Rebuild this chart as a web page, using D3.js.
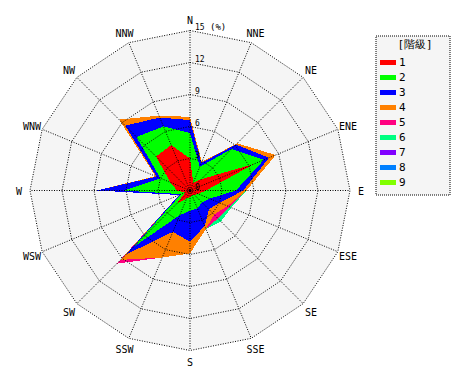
<!DOCTYPE html>
<html>
<head>
<meta charset="utf-8">
<script src="https://cdn.jsdelivr.net/npm/d3@7"></script>
<style>
  body { margin: 0; background: #fff; }
  svg { display: block; }
  text { font-family: "DejaVu Sans Mono", monospace; fill: #000; }
</style>
</head>
<body>
<svg id="rose" width="470" height="380"></svg>
<script>
// 16 directions, clockwise from north
const directions = ["N", "NNE", "NE", "ENE", "E", "ESE", "SE", "SSE",
                    "S", "SSW", "SW", "WSW", "W", "WNW", "NW", "NNW"];

// frequency (%) of each class per direction
const class1 = [3.0, 0.8, 1.5, 6.5, 1.5, 0.8, 0.6, 0.5, 0.6, 0.8, 1.7, 0.5, 1.2, 2.0, 4.5, 4.6];
const class2 = [2.4, 1.6, 4.0, 1.0, 2.8, 1.2, 1.0, 1.3, 1.3, 1.7, 5.8, 0.4, 5.0, 1.0, 2.6, 1.9];
const class3 = [1.2, 0.4, 0.6, 0.5, 0.7, 1.0, 0.9, 1.8, 2.9, 1.7, 1.0, 0.2, 2.55, 0.4, 1.5, 0.9];
const class4 = [0.3, 0.1, 0.15, 0.7, 0.3, 0.8, 0.7, 0.3, 1.1, 2.6, 0.7, 0.0, 0.0, 0.1, 0.8, 0.2];
const class5 = [0, 0, 0, 0, 0, 0.2, 0.5, 0, 0, 0, 0.5, 0, 0, 0, 0, 0];
const class6 = [0, 0, 0, 0, 0, 0.2, 0.4, 0, 0, 0, 0, 0, 0, 0, 0, 0];
const class7 = [0, 0, 0, 0, 0, 0, 0, 0, 0, 0, 0, 0, 0, 0, 0, 0];
const class8 = [0, 0, 0, 0, 0, 0, 0, 0, 0, 0, 0, 0, 0, 0, 0, 0];
const class9 = [0, 0, 0, 0, 0, 0, 0, 0, 0, 0, 0, 0, 0, 0, 0, 0];

const classNames = ["1", "2", "3", "4", "5", "6", "7", "8", "9"];
const classColors = ["#ff0000", "#00ff00", "#0000ff", "#ff8000", "#ff0080",
                     "#00ff80", "#8000ff", "#0080ff", "#80ff00"];
const ringTicks = [3, 6, 9, 12, 15];

const series = [class1, class2, class3, class4, class5, class6, class7, class8, class9];

const svg = d3.select("svg#rose");
const cx = 190, cy = 190.5;
const root = svg.append("g").attr("transform", `translate(${cx},${cy})`);

const r = d3.scaleLinear().domain([0, 15]).range([0, 160]);
const angle = d3.scaleLinear().domain([0, directions.length]).range([0, 2 * Math.PI]);

// cumulative totals, class by class
const cumulative = [];
series.forEach((vals, k) => {
    cumulative.push(vals.map((v, i) => (k === 0 ? 0 : cumulative[k - 1][i]) + v));
});

const radialPoly = d3.lineRadial()
    .angle((d, i) => angle(i))
    .radius(d => r(d))
    .curve(d3.curveLinearClosed);

// background (outer 16-gon)
root.append("path")
    .attr("d", radialPoly(directions.map(() => 15)))
    .attr("fill", "#f5f5f5");

// stacked polygons, outermost first
const layers = root.append("g").attr("class", "layers");
for (let k = cumulative.length - 1; k >= 0; k--) {
    layers.append("path")
        .attr("d", radialPoly(cumulative[k]))
        .attr("fill", classColors[k])
        .attr("shape-rendering", "crispEdges");
}

// grid: rings + spokes (dotted, drawn over data)
const grid = root.append("g").attr("class", "grid")
    .attr("fill", "none").attr("stroke", "#000")
    .attr("stroke-width", 1).attr("stroke-dasharray", "1,1.5");

grid.selectAll("path.ring")
    .data(ringTicks)
    .enter().append("path")
    .attr("class", "ring")
    .attr("d", t => radialPoly(directions.map(() => t)));

grid.selectAll("line.spoke")
    .data(directions)
    .enter().append("line")
    .attr("class", "spoke")
    .attr("x1", 0).attr("y1", 0)
    .attr("x2", (d, i) => r(15) * Math.sin(angle(i)))
    .attr("y2", (d, i) => -r(15) * Math.cos(angle(i)));

root.append("circle").attr("r", 1.5).attr("fill", "#000");

// ring value labels along the north spoke
root.selectAll("text.tick")
    .data([0].concat(ringTicks))
    .enter().append("text")
    .attr("class", "tick")
    .attr("x", 5)
    .attr("y", t => -r(t) - 1)
    .attr("font-size", 8)
    .text(t => t);

root.append("text")
    .attr("x", 20).attr("y", -r(15) - 1)
    .attr("font-size", 9)
    .attr("font-family", "'Noto Sans CJK JP', sans-serif")
    .text("(%)");

// direction labels
root.selectAll("text.dir")
    .data(directions)
    .enter().append("text")
    .attr("class", "dir")
    .attr("x", (d, i) => 171 * Math.sin(angle(i)))
    .attr("y", (d, i) => -171 * Math.cos(angle(i)) + 1)
    .attr("font-size", 10)
    .attr("text-anchor", "middle")
    .attr("dominant-baseline", "central")
    .text(d => d);

// legend
const legend = svg.append("g").attr("transform", "translate(376,36)");
legend.append("rect")
    .attr("width", 74).attr("height", 159)
    .attr("fill", "#f5f5f5").attr("stroke", "#000")
    .attr("stroke-dasharray", "1,1");

legend.append("text")
    .attr("x", 39).attr("y", 12)
    .attr("text-anchor", "middle")
    .attr("font-size", 11)
    .attr("font-family", "'Noto Sans CJK JP', sans-serif")
    .text("[階級]");

const items = legend.selectAll("g.item")
    .data(classNames)
    .enter().append("g")
    .attr("class", "item")
    .attr("transform", (d, i) => `translate(4, ${24 + i * 15})`);

items.append("rect")
    .attr("width", 16).attr("height", 5)
    .attr("fill", (d, i) => classColors[i]);

items.append("text")
    .attr("x", 19).attr("y", 6)
    .attr("font-size", 11)
    .text(d => d);
</script>
</body>
</html>
